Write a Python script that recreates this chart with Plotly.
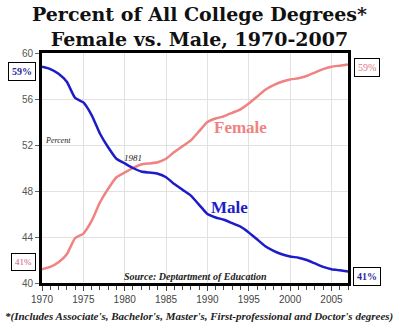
import plotly.graph_objects as go

years = list(range(1970, 2008))
male = [58.8, 58.6, 58.2, 57.5, 56.1, 55.7, 54.6, 53.0, 51.8, 50.8,
        50.4, 50.0, 49.7, 49.6, 49.5, 49.2, 48.6, 48.1, 47.6, 46.8,
        46.0, 45.7, 45.5, 45.2, 44.9, 44.4, 43.8, 43.2, 42.8, 42.5,
        42.3, 42.2, 42.0, 41.7, 41.4, 41.2, 41.1, 41.0]
female = [41.2, 41.4, 41.8, 42.5, 43.9, 44.3, 45.4, 47.0, 48.2, 49.2,
          49.6, 50.0, 50.3, 50.4, 50.5, 50.8, 51.4, 51.9, 52.4, 53.2,
          54.0, 54.3, 54.5, 54.8, 55.1, 55.6, 56.2, 56.8, 57.2, 57.5,
          57.7, 57.8, 58.0, 58.3, 58.6, 58.8, 58.9, 59.0]
x_ticks = [1970, 1975, 1980, 1985, 1990, 1995, 2000, 2005]
y_ticks = [40, 44, 48, 52, 56, 60]

MALE_C = "#1c1cc8"
FEMALE_C = "#f08282"
SERIF = "Liberation Serif"
TITLE_SERIF = "DejaVu Serif"

fig = go.Figure()
fig.add_trace(go.Scatter(x=years, y=female, mode="lines", line=dict(color=FEMALE_C, width=2.5, shape="spline", smoothing=0.5), hoverinfo="skip"))
fig.add_trace(go.Scatter(x=years, y=male, mode="lines", line=dict(color=MALE_C, width=2.5, shape="spline", smoothing=0.5), hoverinfo="skip"))

fig.update_layout(
    width=401, height=325,
    margin=dict(l=42, r=53, t=53, b=42),
    paper_bgcolor="white", plot_bgcolor="white",
    showlegend=False,
    font=dict(family="Liberation Sans", size=10, color="#555"),
)
fig.update_xaxes(
    range=[1970, 2007], tickvals=x_ticks, ticks="outside", ticklen=5, tickwidth=1, tickcolor="#444",
    minor=dict(dtick=1, ticks="outside", ticklen=4, tickcolor="#444", showgrid=False),
    showgrid=True, gridcolor="#e2e2e2", gridwidth=1,
    showline=True, linecolor="black", linewidth=3, mirror=True,
    tickfont=dict(size=10, color="#444"), zeroline=False,
)
fig.update_yaxes(
    range=[40, 60], tickvals=y_ticks, ticks="outside", ticklen=4, tickcolor="#666",
    showgrid=True, gridcolor="#e2e2e2", gridwidth=1,
    showline=True, linecolor="black", linewidth=3, mirror=True,
    tickfont=dict(size=10, color="#555"), zeroline=False,
)

anns = [
    dict(x=0.5, y=1.0, xref="paper", yref="paper", yanchor="top", xanchor="center", yshift=52, xshift=4,
         text="<b>Percent of All College Degrees*<br>Female vs. Male, 1970-2007</b>",
         font=dict(family=TITLE_SERIF, size=19, color="#111"), showarrow=False),
    dict(x=1990.5, y=53.5, text="<b>Female</b>", xanchor="left", font=dict(family=SERIF, size=17, color=FEMALE_C), showarrow=False),
    dict(x=1990.2, y=46.6, text="<b>Male</b>", xanchor="left", font=dict(family=SERIF, size=17, color=MALE_C), showarrow=False),
    dict(x=1970.1, y=52.4, text="<i>Percent</i>", xanchor="left", font=dict(family=SERIF, size=8, color="#222"), showarrow=False),
    dict(x=1981, y=50.9, text="<i>1981</i>", xanchor="center", font=dict(family=SERIF, size=9, color="#222"), showarrow=False),
    dict(x=1988.5, y=40.6, text="<b><i>Source: Deptartment of Education</i></b>", xanchor="center",
         font=dict(family=SERIF, size=10, color="#222"), showarrow=False),
    dict(x=0.5, y=-0.11, xref="paper", yref="paper", yanchor="top", xanchor="center", xshift=4,
         text="<b><i>*(Includes Associate's, Bachelor's, Master's, First-professional and Doctor's degrees)</i></b>",
         font=dict(family=SERIF, size=11, color="#222"), showarrow=False),
]
# end-value boxes on both sides
box = dict(showarrow=False, bordercolor="black", borderwidth=1, bgcolor="white", borderpad=3,
           font=dict(family=SERIF, size=10))
anns += [
    dict(box, xref="paper", x=-0.02, xanchor="right", y=male[0] - 0.4, text="<b>59%</b>", font=dict(family=SERIF, size=10, color="#2a2a9a")),
    dict(box, xref="paper", x=-0.02, xanchor="right", y=female[0] + 0.6, text="41%", font=dict(family=SERIF, size=9, color="#d05a7a")),
    dict(box, xref="paper", x=1.02, xanchor="left", y=female[-1] - 0.3, text="59%", font=dict(family=SERIF, size=10, color="#e07a8a")),
    dict(box, xref="paper", x=1.015, xanchor="left", y=male[-1] - 0.4, text="<b>41%</b>", font=dict(family=SERIF, size=10, color="#2a2a9a")),
]
fig.update_layout(annotations=anns)
fig.write_html("out.html")
